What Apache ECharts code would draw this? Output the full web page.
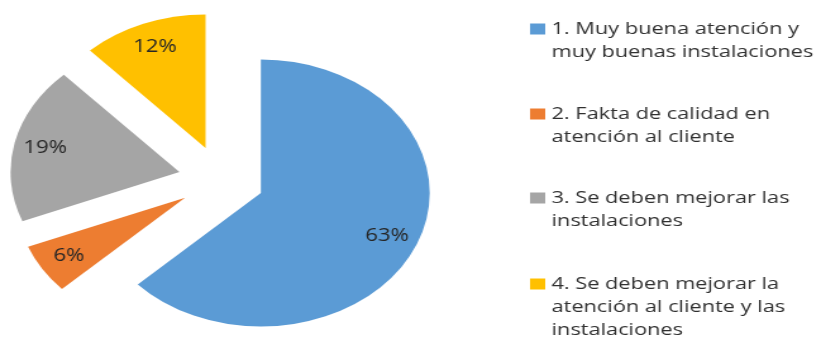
<!DOCTYPE html>
<html>
<head>
<meta charset="utf-8">
<script src="https://cdn.jsdelivr.net/npm/echarts@6/dist/echarts.min.js"></script>
<style>
  html, body { margin: 0; padding: 0; background: #fff; overflow: hidden; }
  #wrap { width: 817px; height: 337px; overflow: hidden; }
  /* chart is laid out narrower and widened horizontally */
  #chart { width: 646px; height: 337px; transform: scaleX(1.265); transform-origin: 0 0; }
</style>
</head>
<body>
<div id="wrap"><div id="chart"></div></div>
<script>
const categories = [
  '1. Muy buena atención y\nmuy buenas instalaciones',
  '2. Fakta de calidad en\natención al cliente',
  '3. Se deben mejorar las\ninstalaciones',
  '4. Se deben mejorar la\natención al cliente y las\ninstalaciones'
];
const values = [63, 6, 19, 12];
const colors = ['#5B9BD5', '#ED7D31', '#A5A5A5', '#FFC000'];

const FONT = '"Open Sans", "Noto Sans", sans-serif';
const LINE_H = 23;
const legendIconCenters = [29, 114, 198, 284];

const pieCenter = [175, 179.5];
const pieR = 133.5;
const explode = 34;

const sliceData = categories.map((name, i) => ({
  name: name,
  value: values[i],
  selected: true,
  itemStyle: { color: colors[i] }
}));

const labelData = categories.map((name, i) => ({
  name: name,
  value: values[i],
  selected: true,
  itemStyle: { color: 'rgba(0,0,0,0)' }
}));

// one legend per entry; blank lines above the text keep the swatch beside the first line
const legends = categories.map((name, i) => {
  const n = name.split('\n').length;
  const lead = '\n'.repeat(n - 1);
  return {
    show: true,
    orient: 'vertical',
    left: 419,
    top: legendIconCenters[i] - ((n - 1) * LINE_H + LINE_H / 2),
    padding: 0,
    itemWidth: 12,
    itemHeight: 11,
    itemGap: 0,
    icon: 'rect',
    selectedMode: false,
    data: [name],
    formatter: (t) => lead + t,
    textStyle: {
      fontFamily: FONT,
      fontSize: 17.2,
      lineHeight: LINE_H,
      color: '#303030'
    }
  };
});

const chart = echarts.init(document.getElementById('chart'));
chart.setOption({
  animation: false,
  backgroundColor: '#fff',
  legend: legends,
  series: [
    {
      name: 'main',
      type: 'pie',
      center: pieCenter,
      radius: pieR,
      startAngle: 90,
      clockwise: true,
      selectedMode: 'multiple',
      selectedOffset: explode,
      silent: true,
      label: { show: false },
      labelLine: { show: false },
      emphasis: { scale: false },
      data: sliceData
    },
    {
      // transparent ring that only carries the percentage labels
      name: 'labels',
      type: 'pie',
      center: pieCenter,
      radius: [78, pieR],
      startAngle: 90,
      clockwise: true,
      selectedMode: 'multiple',
      selectedOffset: explode,
      silent: true,
      legendHoverLink: false,
      label: {
        show: true,
        position: 'inside',
        formatter: '{c}%',
        fontFamily: FONT,
        fontSize: 17.5,
        color: '#262626'
      },
      labelLine: { show: false },
      emphasis: { scale: false },
      data: labelData
    }
  ]
});
</script>
</body>
</html>
